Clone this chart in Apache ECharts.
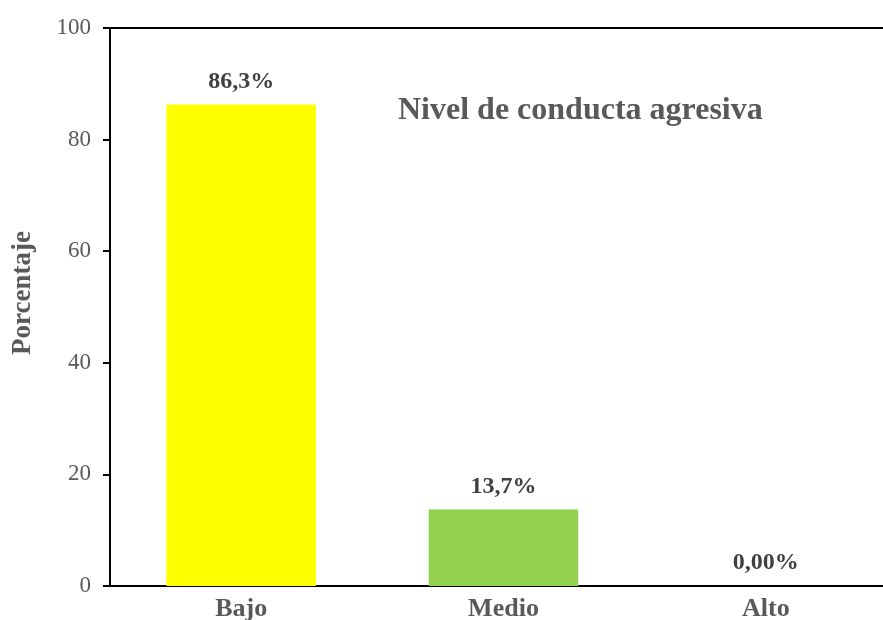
<!DOCTYPE html>
<html>
<head>
<meta charset="utf-8">
<script src="https://cdn.jsdelivr.net/npm/echarts@6/dist/echarts.min.js"></script>
<style>
html, body { margin: 0; padding: 0; background: #fff; }
#chart { width: 883px; height: 620px; }
</style>
</head>
<body>
<div id="chart"></div>
<script>
// niveles y porcentajes
var categorias = ['Bajo', 'Medio', 'Alto'];
var porcentajes = [86.3, 13.7, 0];
var etiquetas = ['86,3%', '13,7%', '0,00%'];
var colores = ['#FFFF00', '#92D050', '#A5A5A5'];

var fuente = '"Liberation Serif", "Times New Roman", serif';

var option = {
    animation: false,
    title: {
        text: 'Nivel de conducta agresiva',
        left: 393,
        top: 90,
        textStyle: {
            fontFamily: fuente,
            fontSize: 32,
            fontWeight: 'bold',
            color: '#595959'
        }
    },
    graphic: [
        {
            // titulo del eje vertical
            type: 'text',
            x: 23,
            y: 293,
            rotation: Math.PI / 2,
            style: {
                text: 'Porcentaje',
                font: 'bold 27px ' + fuente,
                fill: '#595959',
                align: 'center',
                verticalAlign: 'middle'
            }
        }
    ],
    grid: {
        left: 110,
        width: 787,
        top: 28,
        bottom: 34,
        outerBoundsMode: 'none'
    },
    xAxis: [
        {
            type: 'category',
            data: categorias,
            axisLine: { lineStyle: { color: '#000', width: 2 } },
            axisTick: { show: false },
            axisLabel: {
                fontFamily: fuente,
                fontSize: 26,
                fontWeight: 'bold',
                color: '#595959',
                margin: 10
            }
        },
        {
            // linea superior del marco
            type: 'category',
            position: 'top',
            data: categorias,
            axisLine: { show: true, lineStyle: { color: '#000', width: 2 } },
            axisTick: { show: false },
            axisLabel: { show: false }
        }
    ],
    yAxis: {
        type: 'value',
        min: 0,
        max: 100,
        interval: 20,
        axisLine: { show: true, lineStyle: { color: '#000', width: 2 } },
        axisTick: { show: true, length: 7, lineStyle: { color: '#000', width: 2 } },
        splitLine: { show: false },
        axisLabel: {
            fontFamily: fuente,
            fontSize: 23,
            color: '#595959',
            margin: 19
        }
    },
    series: [
        {
            type: 'bar',
            barWidth: '57%',
            data: porcentajes.map(function (v, i) {
                return { value: v, itemStyle: { color: colores[i] } };
            }),
            label: {
                show: true,
                position: 'top',
                distance: 11,
                fontFamily: fuente,
                fontSize: 24,
                fontWeight: 'bold',
                color: '#404040',
                formatter: function (p) { return etiquetas[p.dataIndex]; }
            }
        }
    ]
};

var chart = echarts.init(document.getElementById('chart'));
chart.setOption(option);
</script>
</body>
</html>
